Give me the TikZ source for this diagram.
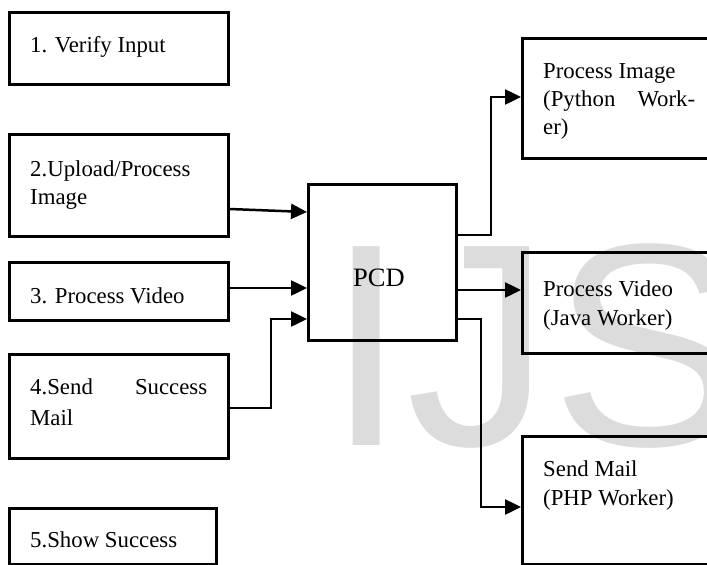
\documentclass[tikz,border=0pt]{standalone}
\usepackage{fontspec}
\setmainfont{Liberation Serif}
\newfontfamily\wmfont{Liberation Sans}
\usetikzlibrary{arrows.meta}
\definecolor{wm}{RGB}{220,220,220}
\tikzset{
  boxshape/.style={draw, line width=2.8pt, anchor=north west, inner sep=0pt},
  txt/.style={anchor=base west, inner sep=0pt, font=\fontsize{22.8}{29}\selectfont},
  arr/.style={line width=2.5pt, -{Triangle[length=16pt,width=15pt]}},
}
\begin{document}
\begin{tikzpicture}[x=1pt,y=-1pt]
\useasboundingbox (0,0) rectangle (707,565);
\clip (0,0) rectangle (707,565);
\fill[white] (0,0) rectangle (707,565);
% watermark
\node[anchor=base west, inner sep=0pt, text=wm, font=\wmfont\fontsize{289}{289}\selectfont] (wmark) at (326,445) {IJS};
% boxes
\node[boxshape, minimum width=219pt, minimum height=72pt] (box1) at (8,11) {};
\node[boxshape, minimum width=219pt, minimum height=102pt] (box2) at (8,133) {};
\node[boxshape, minimum width=219pt, minimum height=58pt] (box3) at (8,261) {};
\node[boxshape, minimum width=219pt, minimum height=104pt] (box4) at (8,353) {};
\node[boxshape, minimum width=207pt, minimum height=56pt] (box5) at (8,507) {};
\node[boxshape, minimum width=148pt, minimum height=156pt] (pcd) at (307,183) {};
\node[boxshape, minimum width=200pt, minimum height=120pt] (pimg) at (521,37) {};
\node[boxshape, minimum width=200pt, minimum height=101pt] (pvid) at (521,251) {};
\node[boxshape, minimum width=200pt, minimum height=128pt] (smail) at (521,435) {};
% texts
\node[txt] (t1) at (30,52) {1. Verify Input};
\node[txt] (t2a) at (30,176) {2.Upload/Process};
\node[txt] (t2b) at (30,204) {Image};
\node[txt] (t3) at (30,303) {3. Process Video};
\node[txt] (t4a) at (30,394) {\hbox to 177pt{4.Send\hfill Success}};
\node[txt] (t4b) at (30,425) {Mail};
\node[txt] (t5) at (30,547) {5.Show Success};
\node[txt, font=\fontsize{26.5}{29}\selectfont] (tpcd) at (353,286) {PCD};
\node[txt] (ti1) at (543,78) {Process Image};
\node[txt] (ti2) at (543,106) {\hbox to 152pt{(Python\hfill Work-}};
\node[txt] (ti3) at (543,134) {er)};
\node[txt] (tv1) at (543,296) {Process Video};
\node[txt] (tv2) at (543,325) {(Java Worker)};
\node[txt] (tm1) at (543,476) {Send Mail};
\node[txt] (tm2) at (543,505) {(PHP Worker)};
% connectors
\draw[arr] ([yshift=-76pt]box2.north east) -- ([yshift=-29pt]pcd.north west);
\draw[arr] ([yshift=-27pt]box3.north east) -- ([yshift=-105pt]pcd.north west);
\draw[arr] ([yshift=-55pt]box4.north east) -| ([xshift=-36pt,yshift=-136pt]pcd.north west) -- ([yshift=-136pt]pcd.north west);
\draw[arr] ([yshift=-52pt]pcd.north east) -| ([xshift=-30pt,yshift=-60pt]pimg.north west) -- ([yshift=-60pt]pimg.north west);
\draw[arr] ([yshift=-107pt]pcd.north east) -- ([yshift=-39pt]pvid.north west);
\draw[arr] ([yshift=-136pt]pcd.north east) -| ([xshift=-40pt,yshift=-72pt]smail.north west) -- ([yshift=-72pt]smail.north west);
\end{tikzpicture}
\end{document}
